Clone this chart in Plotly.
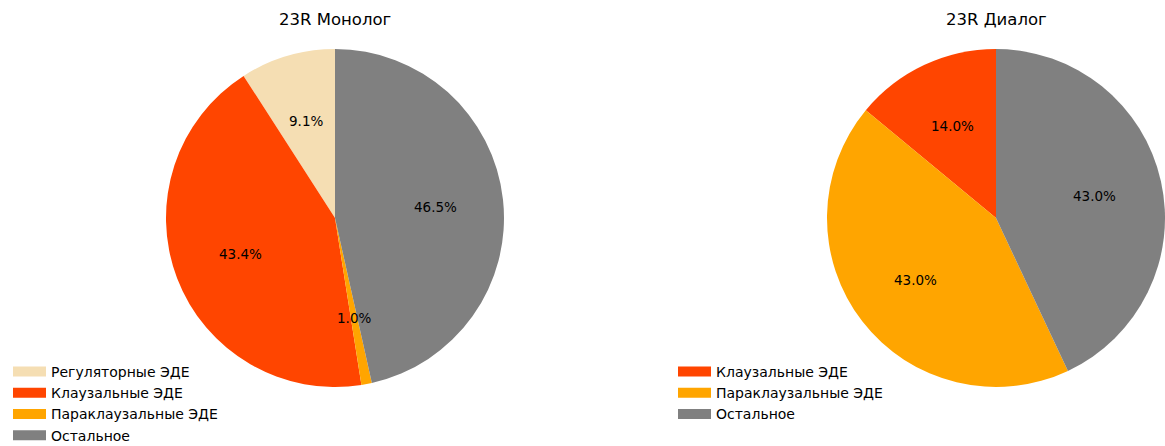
import math
import plotly.graph_objects as go

# ---- data ----
mono_labels = ["Регуляторные ЭДЕ", "Клаузальные ЭДЕ", "Параклаузальные ЭДЕ", "Остальное"]
mono_values = [9.1, 43.4, 1.0, 46.5]
mono_colors = ["#F5DEB3", "#FF4500", "#FFA500", "#808080"]

dia_labels = ["Клаузальные ЭДЕ", "Параклаузальные ЭДЕ", "Остальное"]
dia_values = [14.0, 43.0, 43.0]
dia_colors = ["#FF4500", "#FFA500", "#808080"]

titles = ["23R Монолог", "23R Диалог"]

# ---- layout constants ----
W, H = 1165, 446
FONT = "DejaVu Sans"
# pie domains in pixels (left, right, top, bottom)
dom_px = [(166, 504, 49, 387), (827, 1165, 49, 387)]


def dom(p):
    l, r, t, b = p
    return dict(x=[l / W, r / W], y=[1 - b / H, 1 - t / H])


fig = go.Figure()

pies = [(mono_labels, mono_values, mono_colors, "legend"),
        (dia_labels, dia_values, dia_colors, "legend2")]

annotations = []
for i, (labels, values, colors, leg) in enumerate(pies):
    total = sum(values)
    # plotly's counterclockwise mode ends the first slice at the rotation
    # angle; shift so the first slice starts at 12 o'clock (matplotlib style)
    rot = -360.0 * values[0] / total
    fig.add_trace(go.Pie(
        labels=labels, values=values, sort=False,
        direction="counterclockwise", rotation=rot,
        marker=dict(colors=colors, line=dict(width=0)),
        textinfo="none", hoverinfo="label+percent",
        showlegend=False, domain=dom(dom_px[i]),
    ))
    # legend entries (wide rectangular swatches)
    for lab, col in zip(labels, colors):
        fig.add_trace(go.Scatter(
            x=[None], y=[None], mode="lines", name=lab,
            line=dict(color=col, width=10), legend=leg,
            legendgroup=f"{leg}-{lab}", showlegend=True,
            hoverinfo="skip",
        ))
    # percentage labels at 0.6 of radius (counterclockwise from 12 o'clock)
    l, r, t, b = dom_px[i]
    cx, cy = (l + r) / 2, (t + b) / 2
    rad = min(r - l, b - t) / 2
    cum = 0.0
    for v in values:
        th = math.pi / 2 + 2 * math.pi * (cum + v / 2) / total
        px = cx + 0.6 * rad * math.cos(th)
        py = cy - 0.6 * rad * math.sin(th)
        annotations.append(dict(
            x=px / W, y=1 - py / H, xref="paper", yref="paper",
            text=f"{v / total * 100:.1f}%", showarrow=False,
            xanchor="center", yanchor="middle",
            font=dict(family=FONT, size=13.5, color="#000000"),
        ))
        cum += v
    # title
    annotations.append(dict(
        x=cx / W, y=1 - 19 / H, xref="paper", yref="paper",
        text=titles[i], showarrow=False, xanchor="center", yanchor="middle",
        font=dict(family=FONT, size=16.5, color="#000000"),
    ))

leg_common = dict(
    xanchor="left", yanchor="top", bgcolor="rgba(0,0,0,0)",
    font=dict(family=FONT, size=14, color="#000000"),
    tracegroupgap=3, itemwidth=33, traceorder="normal",
)

fig.update_layout(
    width=W, height=H,
    margin=dict(l=0, r=0, t=0, b=0, autoexpand=False),
    paper_bgcolor="white", plot_bgcolor="white",
    xaxis=dict(visible=False), yaxis=dict(visible=False),
    annotations=annotations,
    legend=dict(x=8 / W, y=1 - 356 / H, **leg_common),
    legend2=dict(x=673 / W, y=1 - 356 / H, **leg_common),
    font=dict(family=FONT),
)

fig.write_html("out.html", config={"displayModeBar": False},
               post_script="document.body.style.margin='0';")
